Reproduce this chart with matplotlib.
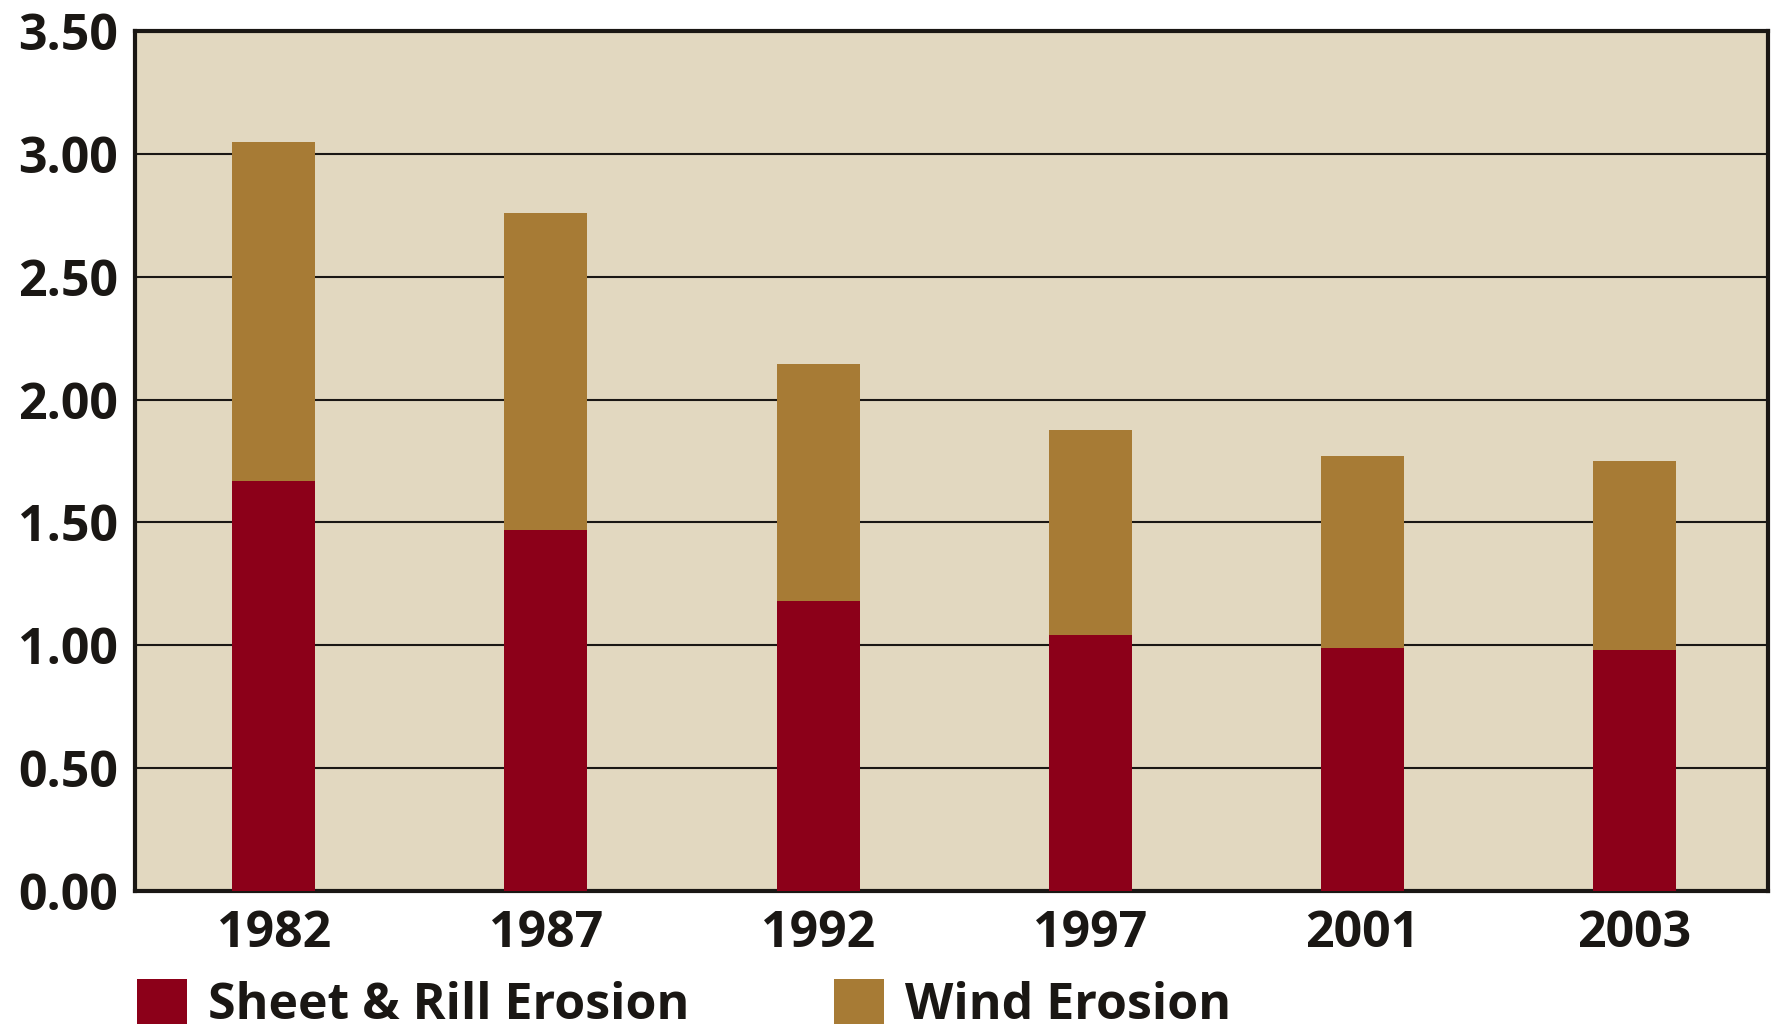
import numpy as np
import matplotlib
matplotlib.use("Agg")
import matplotlib.pyplot as plt

years = ["1982", "1987", "1992", "1997", "2001", "2003"]
sheet_rill = [1.67, 1.47, 1.18, 1.04, 0.99, 0.98]
wind = [1.38, 1.29, 0.965, 0.835, 0.78, 0.77]
yticks = [0.0, 0.5, 1.0, 1.5, 2.0, 2.5, 3.0, 3.5]

red = "#8c0019"
gold = "#a77b35"
bg = "#e2d8c0"
ink = "#1a1714"

plt.rcParams["font.family"] = ["Open Sans", "DejaVu Sans"]
plt.rcParams["font.weight"] = "bold"

fig = plt.figure(figsize=(17.74, 10.29), dpi=100)
ax = fig.add_axes([0.0761, 0.1341, 0.9205, 0.8358])
ax.set_facecolor(bg)

x = np.arange(len(years))
b1 = ax.bar(x, sheet_rill, width=0.305, color=red, label="Sheet & Rill Erosion", zorder=3)
b2 = ax.bar(x, wind, width=0.305, bottom=sheet_rill, color=gold, label="Wind Erosion", zorder=3)

ax.set_xlim(-0.51, 5.49)
ax.set_ylim(0, 3.5)
ax.set_yticks(yticks)
ax.set_yticklabels([f"{v:.2f}" for v in yticks])
ax.set_xticks(x)
ax.set_xticklabels(years)
ax.tick_params(axis="both", length=0, labelsize=36, colors=ink)
ax.tick_params(axis="y", pad=12)
ax.tick_params(axis="x", pad=13)

ax.yaxis.grid(True, color=ink, linewidth=1.5, zorder=1)
ax.set_axisbelow(True)
for s in ax.spines.values():
    s.set_linewidth(3.0)
    s.set_color(ink)

leg = fig.legend(handles=[b1, b2], loc="center left",
                 bbox_to_anchor=(137 / 1774, 1 - 1005 / 1029), ncol=2,
                 frameon=False, fontsize=36, handlelength=1.0, handleheight=1.0,
                 handletextpad=0.42, columnspacing=2.9, borderpad=0, borderaxespad=0)
for t in leg.get_texts():
    t.set_color(ink)

fig.savefig("out.png", dpi=100, facecolor="white")
